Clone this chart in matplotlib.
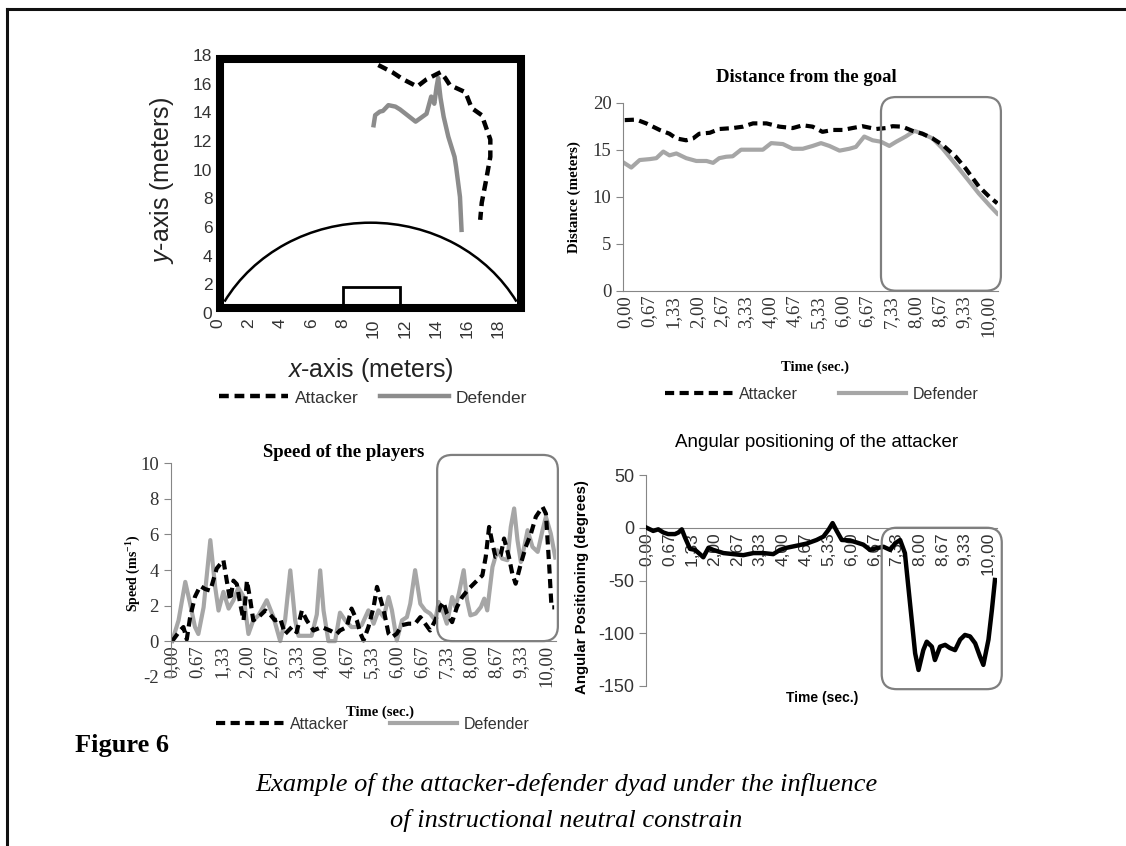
import numpy as np
import matplotlib
matplotlib.use("Agg")
import matplotlib.pyplot as plt
from matplotlib.patches import Rectangle, Arc, FancyBboxPatch
from matplotlib.lines import Line2D
from matplotlib.transforms import IdentityTransform

plt.rcParams["font.family"] = ["Liberation Sans", "DejaVu Sans"]
plt.rcParams["axes.unicode_minus"] = False
plt.rcParams["mathtext.fontset"] = "custom"
plt.rcParams["mathtext.rm"] = "Liberation Serif:bold"
plt.rcParams["mathtext.it"] = "Liberation Sans:italic"

# ============================================
# DATA
# ============================================
# pitch trajectories (meters)
ATT_X = [10.3, 11.2, 11.9, 12.8, 13.4, 14.3, 14.6, 14.9, 15.9, 16.3, 16.95, 17.5, 17.5, 17.2, 16.95, 16.85]
ATT_Y = [17.3, 16.8, 16.3, 15.8, 16.3, 16.8, 16.4, 15.9, 15.4, 14.3, 13.8, 12.1, 10.9, 9.1, 7.7, 6.5]
DEF_X = [10.0, 10.1, 10.4, 10.6, 10.95, 11.4, 11.7, 12.7, 13.4, 13.7, 13.9, 14.05, 14.15, 14.3, 14.5, 14.8, 15.2, 15.3, 15.55, 15.65]
DEF_Y = [13.1, 13.8, 14.05, 14.1, 14.5, 14.4, 14.2, 13.35, 13.9, 15.1, 14.6, 15.8, 16.4, 15.0, 13.7, 12.3, 10.9, 10.2, 8.1, 5.8]

# distance from the goal (m)
DIST_T_ATT = [0, 0.32, 0.59, 0.96, 1.23, 1.42, 1.69, 1.88, 2.05, 2.34, 2.6, 2.97, 3.25, 3.53, 3.9,
              4.26, 4.62, 4.9, 5.17, 5.44, 5.72, 6.0, 6.26, 6.54, 6.91, 7.18, 7.37, 7.64, 7.92,
              8.19, 8.47, 8.75, 9.11, 9.38, 9.74, 10.03, 10.25]
DIST_ATT = [18.15, 18.2, 17.8, 17.1, 16.7, 16.2, 16.0, 16.2, 16.7, 16.8, 17.2, 17.3, 17.45, 17.8, 17.8,
            17.45, 17.3, 17.6, 17.45, 16.9, 17.1, 17.1, 17.3, 17.5, 17.2, 17.3, 17.5, 17.45, 17.0,
            16.7, 16.2, 15.5, 14.25, 13.0, 11.1, 10.0, 9.3]
DIST_T_DEF = [0, 0.18, 0.41, 0.69, 0.87, 1.06, 1.23, 1.42, 1.69, 1.97, 2.25, 2.43, 2.6, 2.79, 2.97,
              3.2, 3.53, 3.8, 4.03, 4.35, 4.62, 4.9, 5.17, 5.4, 5.63, 5.91, 6.18, 6.36, 6.59, 6.82,
              7.05, 7.28, 7.47, 7.73, 7.97, 8.19, 8.47, 8.75, 9.11, 9.38, 9.74, 10.03, 10.25]
DIST_DEF = [13.55, 13.1, 13.9, 14.0, 14.1, 14.8, 14.4, 14.6, 14.1, 13.8, 13.8, 13.6, 14.1, 14.25, 14.3,
            15.0, 15.0, 15.0, 15.7, 15.6, 15.1, 15.1, 15.4, 15.7, 15.4, 14.9, 15.1, 15.3, 16.4, 16.0,
            15.85, 15.4, 15.85, 16.4, 17.0, 16.7, 16.2, 15.1, 13.4, 12.1, 10.35, 9.1, 8.2]

# speed of the players (m/s)
SPD_T_ATT = [0, 0.21, 0.30, 0.39, 0.48, 0.61, 0.75, 0.88, 1.02, 1.19, 1.37, 1.46, 1.55, 1.64, 1.73,
             1.82, 1.91, 2.0, 2.09, 2.17, 2.31, 2.49, 2.62, 2.75, 2.89, 3.02, 3.2, 3.33, 3.47, 3.6,
             3.78, 4.0, 4.22, 4.4, 4.49, 4.67, 4.8, 4.94, 5.04, 5.12, 5.25, 5.39, 5.48, 5.56, 5.66,
             5.79, 5.88, 6.01, 6.15, 6.32, 6.5, 6.64, 6.77, 6.9, 7.04, 7.17, 7.26, 7.35, 7.49, 7.62,
             7.76, 7.94, 8.12, 8.3, 8.39, 8.48, 8.57, 8.65, 8.79, 8.88, 9.01, 9.1, 9.19, 9.33, 9.46,
             9.6, 9.73, 9.91, 10.0, 10.09, 10.15, 10.22]
SPD_ATT = [0, 0.6, 0.79, 0.1, 1.35, 2.5, 3.1, 2.93, 2.84, 4.08, 4.55, 3.4, 2.3, 3.4, 3.2,
           2.1, 1.17, 3.4, 2.3, 1.17, 1.35, 1.72, 1.5, 1.17, 1.27, 0.4, 0.79, 0.5, 1.72, 1.17,
           0.6, 0.79, 0.6, 0.4, 0.6, 0.79, 1.83, 1.17, 0.42, 0.04, 0.79, 1.92, 3.05, 2.48, 1.73,
           0.42, 0.23, 0.42, 0.9, 0.98, 0.98, 1.35, 0.98, 0.6, 1.17, 1.92, 2.2, 1.55, 1.07, 1.92,
           2.48, 2.95, 3.33, 3.7, 4.74, 6.42, 5.49, 4.74, 4.83, 5.77, 4.74, 3.8, 3.23, 4.36, 5.3,
           6.05, 6.99, 7.55, 7.17, 4.17, 1.9, 1.9]
SPD_T_DEF = [0, 0.17, 0.35, 0.48, 0.61, 0.70, 0.84, 1.02, 1.15, 1.24, 1.37, 1.51, 1.64, 1.77, 1.91,
             2.04, 2.17, 2.31, 2.53, 2.71, 2.89, 3.02, 3.16, 3.29, 3.38, 3.73, 3.87, 3.96, 4.05,
             4.18, 4.36, 4.49, 4.63, 4.80, 4.98, 5.07, 5.25, 5.39, 5.52, 5.66, 5.79, 5.88, 6.01,
             6.15, 6.28, 6.37, 6.5, 6.64, 6.77, 6.9, 7.04, 7.13, 7.26, 7.35, 7.49, 7.58, 7.67, 7.8,
             7.89, 7.98, 8.12, 8.26, 8.35, 8.43, 8.57, 8.7, 8.83, 8.97, 9.06, 9.15, 9.24, 9.33,
             9.42, 9.51, 9.64, 9.78, 9.91, 10.0, 10.13, 10.25]
SPD_DEF = [0, 1.17, 3.33, 2.1, 0.79, 0.4, 1.9, 5.68, 3.04, 1.72, 2.77, 1.83, 2.3, 3.0, 2.5,
           0.4, 1.17, 1.45, 2.3, 1.35, 0.0, 1.17, 3.98, 1.17, 0.3, 0.3, 1.5, 3.98, 1.72,
           0, 0, 1.6, 1.17, 0.79, 0.8, 0.9, 1.73, 0.98, 1.73, 1.35, 2.48, 1.73, 0.04,
           1.17, 1.35, 2.1, 3.99, 2.1, 1.73, 1.55, 1.17, 2.2, 1.55, 0.98, 2.48, 1.92, 2.67, 3.99,
           2.3, 1.45, 1.55, 1.92, 2.39, 1.73, 4.17, 5.11, 4.64, 4.55, 6.42, 7.46, 5.67, 4.45,
           5.3, 6.24, 5.3, 5.02, 6.24, 6.99, 6.05, 4.7]

# angular positioning of the attacker (degrees)
ANG_T = [0, 0.19, 0.34, 0.49, 0.63, 0.83, 0.93, 1.03, 1.12, 1.27, 1.42, 1.56, 1.66, 1.81, 1.95,
         2.25, 2.54, 2.83, 3.13, 3.42, 3.71, 3.91, 4.1, 4.4, 4.69, 4.98, 5.18, 5.33, 5.45, 5.57,
         5.72, 5.96, 6.16, 6.35, 6.55, 6.74, 6.94, 7.14, 7.28, 7.43, 7.57, 7.72, 7.87, 7.97, 8.11,
         8.21, 8.36, 8.45, 8.6, 8.75, 8.89, 9.04, 9.19, 9.33, 9.48, 9.63, 9.77, 9.87, 10.02,
         10.12, 10.21]
ANG = [0, -3, -1.5, -4.5, -6, -6, -4.5, -1.5, -9, -20, -21, -25, -28, -19, -21,
       -24, -25, -26, -24, -24, -25, -21, -19, -17, -15, -11.6, -8.4, -2, 4.4, -3,
       -11.6, -12, -14, -16, -21, -19.4, -18, -21, -14.8, -11.6, -24, -71.6, -119, -134.8, -115.9,
       -108, -112.7, -125.4, -112.7, -111, -114, -116, -106, -101.6, -103, -109.5, -122, -130, -106,
       -78, -49.5]

TIME_TICKS = [0, 0.67, 1.33, 2.0, 2.67, 3.33, 4.0, 4.67, 5.33, 6.0, 6.67, 7.33, 8.0, 8.67, 9.33, 10.0]
TIME_LABELS = [("%.2f" % t).replace(".", ",") for t in TIME_TICKS]

W, H = 1126, 846
BLACK = "#000000"
GRAY_PITCH = "#8c8c8c"
GRAY = "#a6a6a6"
BOX = "#7f7f7f"
AX_GRAY = "#868686"
TXT = "#333333"
SERIF = "Liberation Serif"


def fig_rect(left, top, right, bottom):
    return [left / W, 1 - bottom / H, (right - left) / W, (bottom - top) / H]


def fx(px):
    return px / W


def fy(py):
    return 1 - py / H


def rounded_box(fig, ax, t0, t1, v0, v1, radius=15):
    (x0, y0) = ax.transData.transform((t0, v0))
    (x1, y1) = ax.transData.transform((t1, v1))
    box = FancyBboxPatch((min(x0, x1), min(y0, y1)), abs(x1 - x0), abs(y1 - y0),
                         boxstyle="round,pad=0,rounding_size=%d" % radius,
                         transform=IdentityTransform(), fill=False,
                         edgecolor=BOX, lw=1.6, zorder=5)
    fig.add_artist(box)


def style_time_axis(ax, fam, size):
    ax.set_xticks(TIME_TICKS)
    ax.set_xticklabels(TIME_LABELS, rotation=90, fontsize=size, family=fam, color=TXT)
    ax.tick_params(axis="x", length=0, pad=3)
    ax.spines["top"].set_visible(False)
    ax.spines["right"].set_visible(False)
    ax.spines["left"].set_color(AX_GRAY)
    ax.spines["bottom"].set_color(AX_GRAY)
    ax.tick_params(axis="y", color=AX_GRAY, length=5, direction="out")


fig = plt.figure(figsize=(W / 100, H / 100), dpi=100)

# outer frame of the page
fig.add_artist(Line2D([fx(7), 1], [fy(9), fy(9)], color="#111111", lw=2.2))
fig.add_artist(Line2D([fx(7), fx(7)], [fy(9), 0], color="#111111", lw=2.2))

# ============================================
# PITCH
# ============================================
ax1 = fig.add_axes(fig_rect(218, 55, 523, 313))
ax1.set_xlim(0, 19.6)
ax1.set_ylim(0, 18)
for s in ax1.spines.values():
    s.set_visible(False)
ax1.add_patch(Rectangle((0.15, 0.38), 19.31, 17.32, fill=False, lw=5.8, ec=BLACK, clip_on=False))
ax1.add_patch(Arc((9.8, -4.45), 21.5, 21.5, theta1=29.2, theta2=150.8, lw=1.8, color=BLACK))
ax1.add_patch(Rectangle((8.05, 0.38), 3.65, 1.45, fill=False, lw=2.0, ec=BLACK))
def_line, = ax1.plot(DEF_X, DEF_Y, color=GRAY_PITCH, lw=3.2, solid_joinstyle="round")
att_line, = ax1.plot(ATT_X, ATT_Y, color=BLACK, lw=3.2, dashes=(2.2, 1.3))
ax1.set_xticks(np.arange(0, 19, 2))
ax1.set_yticks(np.arange(0, 19, 2))
ax1.tick_params(length=0, labelsize=12.5, labelcolor=TXT, pad=4)
plt.setp(ax1.get_xticklabels(), rotation=90)
fig.text(fx(370), fy(370), "$x$-axis (meters)", fontsize=18, ha="center", va="center", color="#222222")
fig.text(fx(162), fy(180), "$y$-axis (meters)", fontsize=18, ha="center", va="center",
         rotation=90, color="#222222")
fig.legend([att_line, def_line], ["Attacker", "Defender"], loc="center",
           bbox_to_anchor=(fx(373), fy(398)), ncol=2, frameon=False, fontsize=12.5,
           handlelength=4.0, handletextpad=0.4, columnspacing=1.2, labelcolor=TXT)

# ============================================
# DISTANCE FROM THE GOAL
# ============================================
ax2 = fig.add_axes(fig_rect(623.3, 102.7, 998, 290.7))
d_def, = ax2.plot(DIST_T_DEF, DIST_DEF, color=GRAY, lw=3.0)
d_att, = ax2.plot(DIST_T_ATT, DIST_ATT, color=BLACK, lw=3.0, dashes=(2.2, 1.3))
ax2.set_xlim(-0.04, 10.27)
ax2.set_ylim(0, 20)
ax2.set_yticks([0, 5, 10, 15, 20])
style_time_axis(ax2, SERIF, 13.5)
ax2.tick_params(axis="y", labelsize=13.5, labelcolor=TXT)
for lab in ax2.get_yticklabels():
    lab.set_family(SERIF)
fig.text(fx(806), fy(78), "Distance from the goal", family=SERIF, fontweight="bold",
         fontsize=13.5, ha="center", va="center")
fig.text(fx(574), fy(197), "Distance (meters)", family=SERIF, fontweight="bold",
         fontsize=10.8, ha="center", va="center", rotation=90)
fig.text(fx(815), fy(367), "Time (sec.)", family=SERIF, fontweight="bold",
         fontsize=10.5, ha="center", va="center")
fig.legend([d_att, d_def], ["Attacker", "Defender"], loc="center",
           bbox_to_anchor=(fx(822), fy(394)), ncol=2, frameon=False, fontsize=11.5,
           handlelength=4.2, handletextpad=0.4, columnspacing=2.6, labelcolor=TXT)

# ============================================
# SPEED OF THE PLAYERS
# ============================================
ax3 = fig.add_axes(fig_rect(170.7, 463.3, 556, 676.7))
s_def, = ax3.plot(SPD_T_DEF, SPD_DEF, color=GRAY, lw=3.0)
s_att, = ax3.plot(SPD_T_ATT, SPD_ATT, color=BLACK, lw=3.0, dashes=(2.2, 1.3))
ax3.set_xlim(-0.04, 10.27)
ax3.set_ylim(-2, 10)
ax3.spines["bottom"].set_position(("data", 0))
ax3.set_yticks([-2, 0, 2, 4, 6, 8, 10])
style_time_axis(ax3, SERIF, 13.5)
ax3.tick_params(axis="y", labelsize=13.5, labelcolor=TXT)
for lab in ax3.get_yticklabels():
    lab.set_family(SERIF)
fig.text(fx(344), fy(452), "Speed of the players", family=SERIF, fontweight="bold",
         fontsize=13.5, ha="center", va="center")
fig.text(fx(133), fy(573), "Speed (ms$^{-1}$)", family=SERIF, fontweight="bold",
         fontsize=10, ha="center", va="center", rotation=90)
fig.text(fx(380), fy(712), "Time (sec.)", family=SERIF, fontweight="bold",
         fontsize=10.5, ha="center", va="center")
fig.legend([s_att, s_def], ["Attacker", "Defender"], loc="center",
           bbox_to_anchor=(fx(373), fy(724)), ncol=2, frameon=False, fontsize=11.5,
           handlelength=4.2, handletextpad=0.4, columnspacing=2.6, labelcolor=TXT)

# ============================================
# ANGULAR POSITIONING
# ============================================
ax4 = fig.add_axes(fig_rect(646, 475, 997, 686))
ax4.plot(ANG_T, ANG, color=BLACK, lw=3.2, solid_joinstyle="round", zorder=3)
ax4.set_xlim(-0.02, 10.27)
ax4.set_ylim(-150, 50)
ax4.spines["bottom"].set_position(("data", 0))
ax4.set_yticks([-150, -100, -50, 0, 50])
style_time_axis(ax4, "Liberation Sans", 12.5)
ax4.tick_params(axis="y", labelsize=13, labelcolor=TXT)
fig.text(fx(817), fy(442), "Angular positioning of the attacker", fontsize=13.5,
         ha="center", va="center")
fig.text(fx(582), fy(587), "Angular Positioning (degrees)", fontweight="bold",
         fontsize=10.8, ha="center", va="center", rotation=90)
fig.text(fx(822), fy(698), "Time (sec.)", fontweight="bold", fontsize=10,
         ha="center", va="center")

# highlight boxes around the final phase
rounded_box(fig, ax2, 7.05, 10.35, 0, 20.6)
rounded_box(fig, ax3, 7.09, 10.32, 0, 10.47)
rounded_box(fig, ax4, 6.89, 10.41, 0, -153)

# ============================================
# CAPTION
# ============================================
fig.text(fx(75), fy(745), "Figure 6", family=SERIF, fontweight="bold",
         fontsize=19, va="center")
fig.text(fx(566), fy(784), "Example of the attacker-defender dyad under the influence",
         family=SERIF, style="italic", fontsize=19, ha="center", va="center")
fig.text(fx(566), fy(820), "of instructional neutral constrain",
         family=SERIF, style="italic", fontsize=19, ha="center", va="center")

fig.savefig("out.png", dpi=100)
